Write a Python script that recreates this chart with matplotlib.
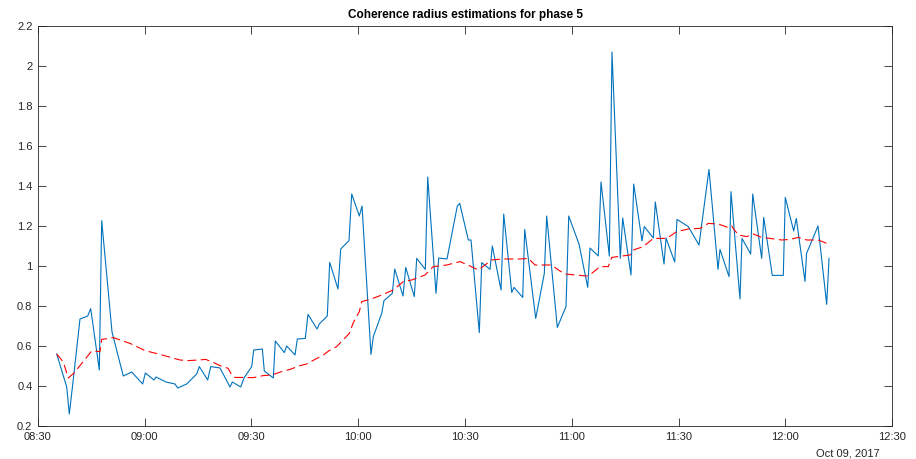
#!/usr/bin/env python3
"""Coherence radius estimations for phase 5 (MATLAB-style time series)."""
import matplotlib; matplotlib.use("Agg")
import matplotlib.pyplot as plt
import matplotlib.dates as mdates
import pandas as pd

plt.rcParams["font.family"] = ["Liberation Sans", "DejaVu Sans"]

DAY = pd.Timestamp("2017-10-09 08:30:00")

# raw estimates: minutes after 08:30, coherence radius
RAW_MIN = [5.26, 8.07, 8.80, 10.12, 11.80, 13.97, 14.81, 17.23, 17.90, 20.80,
           23.97, 26.33, 29.42, 30.16, 32.60, 33.16, 35.97, 38.50, 39.26, 41.79,
           44.60, 45.33, 47.69, 48.54, 51.15, 53.96, 54.61, 56.97, 57.89, 60.06,
           60.62, 63.04, 63.60, 66.13, 66.69, 69.22, 69.89, 72.23, 72.87, 75.12,
           75.88, 78.41, 79.05, 81.30, 81.98, 84.31, 85.07, 87.40, 88.16, 90.30,
           91.06, 93.58, 94.23, 96.59, 97.24, 99.57, 100.25, 102.58, 103.34, 105.75,
           106.43, 108.85, 109.52, 111.85, 112.61, 114.94, 117.84, 118.52, 120.93, 121.69,
           124.02, 124.70, 127.03, 127.68, 130.12, 130.88, 133.13, 133.77, 136.22, 136.78,
           139.87, 142.29, 142.96, 145.94, 148.39, 149.15, 152.04, 154.49, 155.13, 157.46,
           158.22, 160.56, 161.31, 163.64, 164.32, 166.65, 167.41, 169.74, 170.39, 172.92,
           173.48, 175.93, 176.49, 178.93, 179.58, 182.75, 185.76, 188.57, 191.10, 191.66,
           194.19, 194.75, 197.28, 197.84, 200.29, 200.85, 203.38, 203.94, 206.36, 209.45,
           210.01, 212.37, 213.10, 215.55, 215.99, 219.21, 221.65, 222.30]
RAW_VAL = [0.56, 0.395, 0.26, 0.465, 0.735, 0.75, 0.787, 0.48, 1.227, 0.67,
           0.45, 0.47, 0.41, 0.465, 0.43, 0.445, 0.42, 0.41, 0.39, 0.41,
           0.46, 0.497, 0.43, 0.497, 0.49, 0.395, 0.42, 0.395, 0.44, 0.497,
           0.58, 0.585, 0.475, 0.44, 0.625, 0.567, 0.60, 0.555, 0.635, 0.638,
           0.758, 0.685, 0.71, 0.75, 1.018, 0.885, 1.085, 1.127, 1.36, 1.25,
           1.30, 0.558, 0.647, 0.763, 0.827, 0.863, 0.985, 0.85, 0.993, 0.847,
           1.038, 0.983, 1.445, 0.863, 1.04, 1.035, 1.30, 1.313, 1.13, 1.13,
           0.667, 1.017, 0.983, 1.10, 0.88, 1.26, 0.868, 0.893, 0.843, 1.183,
           0.738, 0.963, 1.25, 0.693, 0.797, 1.25, 1.11, 0.893, 1.09, 1.05,
           1.42, 1.05, 2.07, 1.038, 1.24, 0.955, 1.41, 1.125, 1.197, 1.14,
           1.32, 1.01, 1.14, 1.02, 1.233, 1.197, 1.105, 1.483, 0.983, 1.083,
           0.947, 1.372, 0.835, 1.138, 1.06, 1.36, 1.038, 1.243, 0.953, 0.953,
           1.343, 1.175, 1.238, 0.923, 1.063, 1.20, 0.808, 1.038]

# smoothed estimate (moving average)
AVG_MIN = [5.26, 7.11, 8.52, 10.12, 15.09, 17.42, 17.90, 21.16, 25.85, 27.74,
           30.07, 34.29, 39.91, 42.24, 45.05, 47.13, 49.27, 51.15, 53.48, 54.44,
           55.36, 60.51, 63.32, 65.68, 68.49, 70.82, 73.63, 75.51, 77.85, 80.18,
           82.06, 83.94, 87.49, 88.61, 90.30, 90.97, 93.30, 96.59, 99.85, 102.66,
           105.02, 108.76, 111.09, 114.86, 118.60, 121.41, 123.74, 125.62, 127.51, 130.32,
           135.46, 137.79, 139.68, 144.37, 146.23, 148.11, 154.20, 155.61, 157.94, 160.28,
           161.23, 166.38, 167.30, 170.11, 172.92, 176.69, 179.50, 182.75, 186.04, 188.38,
           191.19, 194.00, 194.95, 195.40, 196.81, 199.17, 201.03, 203.38, 205.72, 209.00,
           211.34, 213.67, 216.03, 219.29, 222.10]
AVG_VAL = [0.56, 0.52, 0.44, 0.465, 0.575, 0.572, 0.633, 0.642, 0.613, 0.597,
           0.577, 0.558, 0.53, 0.527, 0.53, 0.533, 0.518, 0.502, 0.488, 0.455,
           0.443, 0.442, 0.452, 0.455, 0.472, 0.483, 0.502, 0.51, 0.533, 0.555,
           0.58, 0.597, 0.663, 0.717, 0.772, 0.822, 0.833, 0.855, 0.88, 0.922,
           0.93, 0.955, 0.997, 1.005, 1.022, 1.0, 0.98, 1.005, 1.03, 1.035,
           1.035, 1.038, 1.005, 1.005, 0.98, 0.96, 0.95, 0.963, 0.997, 0.997,
           1.043, 1.055, 1.08, 1.097, 1.138, 1.138, 1.172, 1.185, 1.188, 1.213,
           1.21, 1.192, 1.2, 1.188, 1.155, 1.147, 1.16, 1.143, 1.138, 1.13,
           1.133, 1.143, 1.13, 1.13, 1.11]

TITLE = "Coherence radius estimations for phase 5"
YTICKS = [0.2, 0.4, 0.6, 0.8, 1, 1.2, 1.4, 1.6, 1.8, 2, 2.2]


def to_time(mins):
    return DAY + pd.to_timedelta(mins, unit="m")


fig = plt.figure(figsize=(9.16, 4.59), dpi=100)
ax = fig.add_axes([38/916, 33/459, 854/916, 400/459])

ax.plot(to_time(RAW_MIN), RAW_VAL, color="#0072BD", lw=0.8)
ax.plot(to_time(AVG_MIN), AVG_VAL, color="red", lw=0.8, ls=(0, (8, 4)))

ax.set_xlim(DAY, DAY + pd.Timedelta(hours=4))
ax.set_ylim(0.2, 2.2)
ax.xaxis.set_major_locator(mdates.MinuteLocator(byminute=[0, 30]))
ax.xaxis.set_major_formatter(mdates.DateFormatter("%H:%M"))
ax.set_yticks(YTICKS)
ax.set_yticklabels([f"{v:g}" for v in YTICKS])

grey = "#262626"
for s in ax.spines.values():
    s.set_color(grey); s.set_linewidth(0.6)
ax.tick_params(direction="in", length=6, width=0.6, color=grey, labelcolor=grey,
               labelsize=8, top=True, right=True, pad=4)
ax.set_title(TITLE, fontsize=8.5, fontweight="bold", color="black", pad=6)
ax.text(0.986, -0.055, "Oct 09, 2017", transform=ax.transAxes, ha="right", va="top",
        fontsize=8, color=grey)

fig.savefig("out.png", dpi=100)
